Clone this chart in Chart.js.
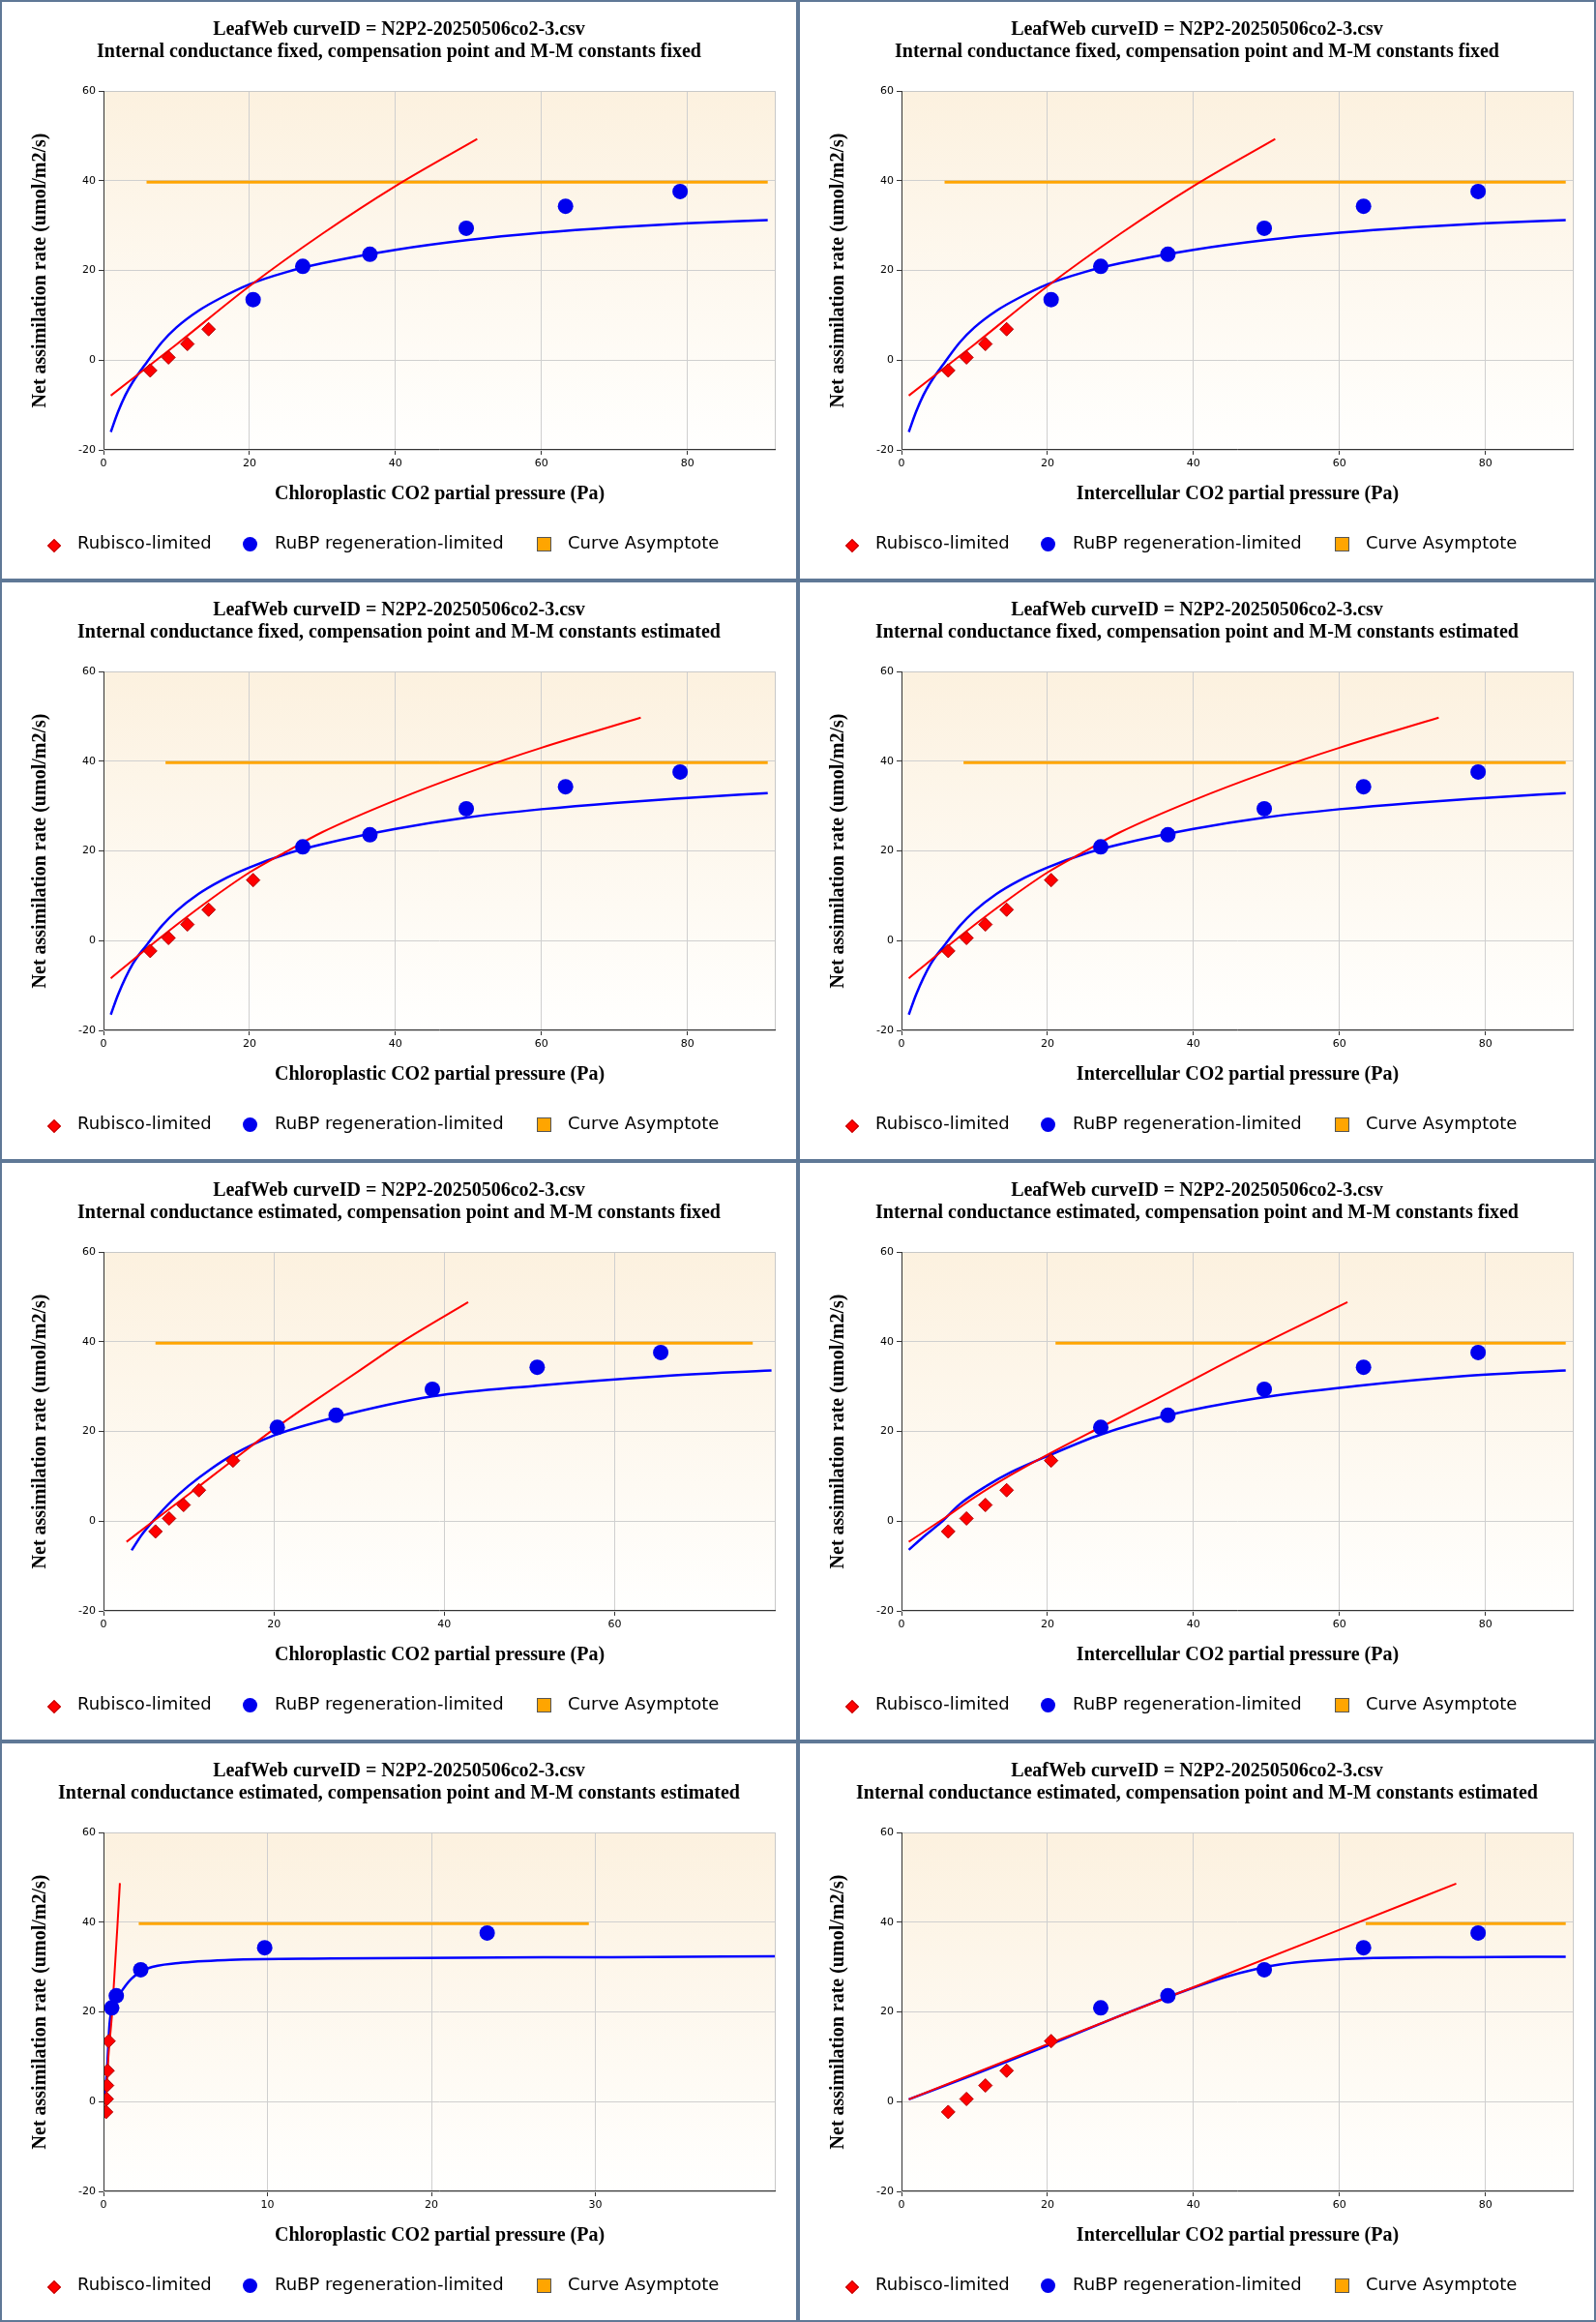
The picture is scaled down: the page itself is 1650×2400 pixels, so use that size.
<!DOCTYPE html>
<html>
<head>
<meta charset="utf-8">
<script src="https://cdn.jsdelivr.net/npm/chart.js@4.4.1/dist/chart.umd.min.js"></script>
<style>
  body { margin: 0; background: #fff; }
  #grid { display: grid; grid-template-columns: 825px 825px; width: 1650px; }
  .panel { position: relative; width: 825px; height: 600px; box-sizing: border-box; border: 2px solid #5f7896; background: #fff; }
  .panel canvas { position: absolute; left: 0; top: 0; }
  .ttl { position: absolute; left: 0; width: 821px; text-align: center; font: bold 20px "Liberation Serif", serif; color: #000; }
  .leg { position: absolute; top: 548px; font: 18px "DejaVu Sans", sans-serif; color: #000; }
  .sym { position: absolute; }
</style>
</head>
<body>
<div id="grid"></div>
<script>
// measured points
const aMeas = [-2.3, 0.6, 3.6, 6.9, 13.5, 20.9, 23.6, 29.4, 34.3, 37.6];
const xCi   = [6.4, 8.9, 11.5, 14.4, 20.5, 27.3, 36.5, 49.7, 63.3, 79.0];
const xCcP5 = [6.1, 7.7, 9.4, 11.2, 15.2, 20.4, 27.3, 38.6, 50.9, 65.4];
const xCcP7 = [0.16, 0.2, 0.22, 0.25, 0.31, 0.5, 0.78, 2.27, 9.83, 23.4];

// fitted curves
const ffRubX = [1, 10, 20, 30, 40, 51.2];
const ffRubY = [-7.9, 3.5, 16.5, 28.2, 38.8, 49.3];
const ffJX = [1, 2, 3, 4, 6, 8, 10, 13, 16, 20, 25, 30, 40, 50, 60, 70, 80, 91];
const ffJY = [-16, -11.5, -7.8, -4.9, -0.3, 4.0, 7.3, 11.0, 13.8, 16.9, 19.6, 21.6, 24.6, 26.8, 28.4, 29.6, 30.5, 31.2];
const feRubX = [1, 5, 10, 15, 20, 25, 30, 40, 50, 60, 73.6];
const feRubY = [-8.4, -3.0, 3.5, 9.6, 15.2, 19.8, 24.2, 31.3, 37.5, 43.0, 49.7];
const feJX = [1, 2, 4, 6, 8, 10, 13, 16, 20, 25, 30, 40, 50, 60, 70, 80, 91];
const feJY = [-16.5, -12, -5.2, -0.8, 3.3, 6.6, 10.4, 13.3, 16.3, 19.3, 21.5, 24.9, 27.5, 29.3, 30.7, 31.8, 32.9];
const efCcRubX = [2.7, 6, 10, 15, 20, 25, 30, 34.9, 42.8];
const efCcRubY = [-4.6, 0.2, 6.0, 13.3, 20.5, 27.1, 33.5, 39.8, 48.8];
const efCcJX = [3.3, 4.5, 5.8, 8, 10, 12.5, 15.2, 20, 27.3, 38.6, 50.9, 65.4, 78.4];
const efCcJY = [-6.5, -3, 0, 4.5, 7.9, 11.5, 14.8, 19.1, 23.2, 27.8, 30.2, 32.3, 33.6];
const efCiRubX = [1, 6, 10, 15, 20, 27, 35, 42, 49.8, 61.1];
const efCiRubY = [-4.6, 0.8, 5.3, 10.3, 14.8, 20.7, 27.3, 33.3, 39.8, 48.8];
const efCiJX = [1, 3, 5.4, 8, 11.7, 15, 20, 27.3, 36.5, 48.7, 62.7, 76.7, 91];
const efCiJY = [-6.4, -3.5, -0.3, 3.8, 7.9, 10.9, 14.5, 19.3, 23.6, 27.4, 30.2, 32.3, 33.6];
const eeCcRubX = [0.12, 0.3, 0.53, 1.0];
const eeCcRubY = [-1.5, 10, 20, 48.7];
const eeCcJX = [0.06, 0.22, 0.37, 0.59, 1.0, 1.71, 2.7, 4.57, 7.7, 13.9, 21.7, 31, 41];
const eeCcJY = [0.9, 7.5, 17.4, 21.2, 24, 27.4, 29.7, 30.9, 31.6, 31.9, 32.1, 32.2, 32.4];
const eeCiRubX = [1, 20, 40, 60, 76];
const eeCiRubY = [0.5, 12.8, 25.5, 38.3, 48.6];
const eeCiJX = [1, 10, 20, 27.3, 36.5, 44, 48.7, 52, 56, 62.7, 76.7, 91];
const eeCiJY = [0.5, 6.1, 12.5, 17.4, 23.3, 27.6, 29.6, 30.6, 31.3, 31.9, 32.2, 32.3];

const asymY = 39.7;
const asymStart = [5.9, 5.9, 8.5, 8.5, 6.1, 21.1, 2.15, 63.6];
const asymEnd   = [91, 91, 91, 91, 76.2, 91, 29.6, 91];

const titles2 = [
  'Internal conductance fixed, compensation point and M-M constants fixed',
  'Internal conductance fixed, compensation point and M-M constants fixed',
  'Internal conductance fixed, compensation point and M-M constants estimated',
  'Internal conductance fixed, compensation point and M-M constants estimated',
  'Internal conductance estimated, compensation point and M-M constants fixed',
  'Internal conductance estimated, compensation point and M-M constants fixed',
  'Internal conductance estimated, compensation point and M-M constants estimated',
  'Internal conductance estimated, compensation point and M-M constants estimated'
];
const xTitleCc = 'Chloroplastic CO2 partial pressure (Pa)';
const xTitleCi = 'Intercellular CO2 partial pressure (Pa)';

const pts = (xs, ys) => xs.map((x, i) => ({ x: x, y: ys[i] }));

const panels = [
  { xs: xCi, nRub: 4, rub: [ffRubX, ffRubY], j: [ffJX, ffJY], xMax: 92.1, step: 20, xt: xTitleCc },
  { xs: xCi, nRub: 4, rub: [ffRubX, ffRubY], j: [ffJX, ffJY], xMax: 92.1, step: 20, xt: xTitleCi },
  { xs: xCi, nRub: 5, rub: [feRubX, feRubY], j: [feJX, feJY], xMax: 92.1, step: 20, xt: xTitleCc },
  { xs: xCi, nRub: 5, rub: [feRubX, feRubY], j: [feJX, feJY], xMax: 92.1, step: 20, xt: xTitleCi },
  { xs: xCcP5, nRub: 5, rub: [efCcRubX, efCcRubY], j: [efCcJX, efCcJY], xMax: 78.9, step: 20, xt: xTitleCc },
  { xs: xCi, nRub: 5, rub: [efCiRubX, efCiRubY], j: [efCiJX, efCiJY], xMax: 92.1, step: 20, xt: xTitleCi },
  { xs: xCcP7, nRub: 5, rub: [eeCcRubX, eeCcRubY], j: [eeCcJX, eeCcJY], xMax: 41, step: 10, xt: xTitleCc },
  { xs: xCi, nRub: 5, rub: [eeCiRubX, eeCiRubY], j: [eeCiJX, eeCiJY], xMax: 92.1, step: 20, xt: xTitleCi }
];

// plot background gradient + frame
const areaPlugin = {
  id: 'area',
  beforeDraw(chart) {
    const { ctx, chartArea: a } = chart;
    const g = ctx.createLinearGradient(0, a.top, 0, a.bottom);
    g.addColorStop(0, '#fcf1df');
    g.addColorStop(1, '#fffffe');
    ctx.save();
    ctx.fillStyle = g;
    ctx.fillRect(a.left, a.top, a.right - a.left, a.bottom - a.top);
    ctx.restore();
  },
  afterDatasetsDraw(chart) {
    const { ctx, chartArea: a } = chart;
    ctx.save();
    ctx.strokeStyle = '#c8c8c8';
    ctx.lineWidth = 1;
    ctx.beginPath();
    ctx.moveTo(a.left, a.top + 0.5); ctx.lineTo(a.right - 0.5, a.top + 0.5); ctx.lineTo(a.right - 0.5, a.bottom);
    ctx.stroke();
    ctx.strokeStyle = '#333';
    ctx.beginPath();
    ctx.moveTo(a.left + 0.5, a.top); ctx.lineTo(a.left + 0.5, a.bottom - 0.5); ctx.lineTo(a.right, a.bottom - 0.5);
    ctx.stroke();
    ctx.restore();
  }
};

const grid = document.getElementById('grid');
panels.forEach((p, k) => {
  const div = document.createElement('div');
  div.className = 'panel';
  div.innerHTML =
    '<canvas width="821" height="596"></canvas>' +
    '<div class="ttl" style="top:16px">LeafWeb curveID = N2P2-20250506co2-3.csv</div>' +
    '<div class="ttl" style="top:39px">' + titles2[k] + '</div>' +
    '<div class="sym" style="left:49px;top:557px;width:8px;height:8px;background:#f00;border:1px solid #b00;transform:rotate(45deg)"></div>' +
    '<div class="leg" style="left:78px">Rubisco-limited</div>' +
    '<div class="sym" style="left:249px;top:553px;width:15px;height:15px;border-radius:50%;background:#0000ee"></div>' +
    '<div class="leg" style="left:282px">RuBP regeneration-limited</div>' +
    '<div class="sym" style="left:553px;top:553px;width:13px;height:13px;background:#ffa500;border:1px solid #555"></div>' +
    '<div class="leg" style="left:585px">Curve Asymptote</div>';
  grid.appendChild(div);

  const rubPts = pts(p.xs.slice(0, p.nRub), aMeas.slice(0, p.nRub));
  const jPts = pts(p.xs.slice(p.nRub), aMeas.slice(p.nRub));

  new Chart(div.querySelector('canvas'), {
    type: 'scatter',
    data: {
      datasets: [
        { label: 'Rubisco-limited', data: rubPts, pointStyle: 'rectRot', pointRadius: 7,
          backgroundColor: '#f00', borderColor: '#b00000', borderWidth: 1, order: 0 },
        { label: 'RuBP regeneration-limited', data: jPts, pointStyle: 'circle', pointRadius: 8,
          backgroundColor: '#0000ee', borderColor: '#0000ee', borderWidth: 0, order: 0 },
        { label: 'Curve Asymptote', data: [{ x: asymStart[k], y: asymY }, { x: asymEnd[k], y: asymY }],
          showLine: true, pointRadius: 0, borderColor: '#ffa500', borderWidth: 3, order: 2 },
        { label: 'Rubisco fit', data: pts(p.rub[0], p.rub[1]), showLine: true, pointRadius: 0,
          borderColor: '#ff0000', borderWidth: 2, cubicInterpolationMode: 'monotone', order: 1 },
        { label: 'RuBP fit', data: pts(p.j[0], p.j[1]), showLine: true, pointRadius: 0,
          borderColor: '#0000ff', borderWidth: 2.5, cubicInterpolationMode: 'monotone', order: 1 }
      ]
    },
    options: {
      responsive: false,
      devicePixelRatio: 1,
      animation: false,
      layout: { padding: { top: 92, left: 24, right: 21, bottom: 71 } },
      plugins: { legend: { display: false }, tooltip: { enabled: false } },
      scales: {
        x: {
          min: 0, max: p.xMax,
          afterBuildTicks: s => { s.ticks = s.ticks.filter(t => Math.abs(t.value / p.step - Math.round(t.value / p.step)) < 1e-6); },
          afterFit: s => { s.height = 62; },
          ticks: { stepSize: p.step, color: '#000', font: { family: 'DejaVu Sans', size: 11 }, padding: 3 },
          grid: { color: '#cfcfcf', tickColor: '#333', tickLength: 5 },
          border: { display: false },
          title: { display: true, text: p.xt, color: '#000', font: { family: 'Liberation Serif', weight: 'bold', size: 20 }, padding: { top: 6, bottom: 4 } }
        },
        y: {
          min: -20, max: 60,
          afterFit: s => { s.width = 81; },
          ticks: { stepSize: 20, color: '#000', font: { family: 'DejaVu Sans', size: 11 }, padding: 3 },
          grid: { color: '#cfcfcf', tickColor: '#333', tickLength: 5 },
          border: { display: false },
          title: { display: true, text: 'Net assimilation rate (umol/m2/s)', color: '#000', font: { family: 'Liberation Serif', weight: 'bold', size: 20 }, padding: { top: 4, bottom: 4 } }
        }
      }
    },
    plugins: [areaPlugin]
  });
});
</script>
</body>
</html>
